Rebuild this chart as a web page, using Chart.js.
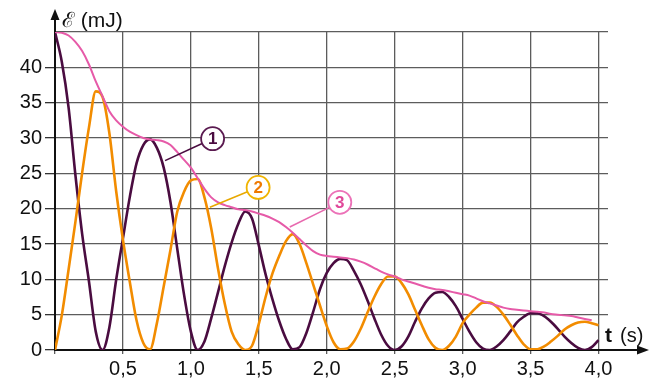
<!DOCTYPE html>
<html>
<head>
<meta charset="utf-8">
<script src="https://cdn.jsdelivr.net/npm/chart.js@4/dist/chart.umd.min.js"></script>
<style>
  html, body { margin: 0; padding: 0; background: #fff; }
  canvas { display: block; }
</style>
</head>
<body>
<canvas id="energyChart" width="657" height="382"></canvas>
<script>
// time in s (read every 0.05 s)
const times = [
  0, 0.05, 0.1, 0.15, 0.2, 0.25, 0.3, 0.35, 0.4, 0.45,
  0.5, 0.55, 0.6, 0.65, 0.7, 0.75, 0.8, 0.85, 0.9, 0.95,
  1.0, 1.05, 1.1, 1.15, 1.2, 1.25, 1.3, 1.35, 1.4, 1.45,
  1.5, 1.55, 1.6, 1.65, 1.7, 1.75, 1.8, 1.85, 1.9, 1.95,
  2.0, 2.05, 2.1, 2.15, 2.2, 2.25, 2.3, 2.35, 2.4, 2.45,
  2.5, 2.55, 2.6, 2.65, 2.7, 2.75, 2.8, 2.85, 2.9, 2.95,
  3.0, 3.05, 3.1, 3.15, 3.2, 3.25, 3.3, 3.35, 3.4, 3.45,
  3.5, 3.55, 3.6, 3.65, 3.7, 3.75, 3.8, 3.85, 3.9, 3.95,
  4.0
];

// curve 1 (mJ)
const curve1 = [
  45, 40.8, 34.3, 24.8, 16.4, 9.7, 2.6, 0, 3.2, 9.9,
  15.8, 21.6, 26.4, 29.0, 29.8, 28.6, 25.8, 20.9, 14.3, 7.8,
  2.6, 0, 1.2, 4.5, 8.2, 11.9, 15.2, 17.9, 19.6, 18.6,
  14.8, 10.7, 7.2, 4.1, 1.6, 0.1, 0.4, 2.4, 5.4, 8.6,
  10.9, 12.3, 12.9, 12.7, 11.2, 9.3, 7.0, 4.5, 2.2, 0.6,
  0, 0.5, 1.9, 4.0, 5.9, 7.3, 8.1, 8.2, 7.5, 6.2,
  4.4, 2.6, 1.1, 0.2, 0, 0.5, 1.4, 2.6, 3.9, 4.7,
  5.2, 5.2, 4.8, 4.0, 3.0, 1.9, 1.0, 0.3, 0, 0.4,
  1.4
];

// curve 2 (mJ)
const curve2 = [
  0, 4.9, 11.4, 18.1, 25.1, 31.5, 36.6, 35.8, 30.7, 22.5,
  15.6, 9.7, 4.2, 1.0, 0.1, 3.8, 9.0, 14.2, 19.6, 22.4,
  24.0, 24.2, 21.6, 17.2, 11.5, 6.5, 2.6, 0.8, 0, 0.6,
  3.7, 7.5, 10.8, 13.3, 15.4, 16.4, 15.0, 12.3, 9.3, 6.3,
  3.4, 1.1, 0.1, 0.2, 1.2, 3.0, 5.3, 7.5, 9.3, 10.4,
  10.4, 9.5, 7.9, 5.7, 3.5, 1.5, 0.3, 0, 0.6, 1.9,
  3.8, 5.0, 6.0, 6.7, 6.7, 6.1, 5.0, 3.6, 2.1, 0.8,
  0.1, 0.1, 0.5, 1.2, 2.0, 2.9, 3.5, 3.9, 4.0, 3.8,
  3.5
];

// curve 3 (mJ)
const curve3 = [
  45.0, 44.9, 44.5, 43.6, 42.3, 40.4, 38.0, 35.9, 33.8, 32.5,
  31.6, 30.9, 30.4, 30.0, 29.8, 29.7, 29.5, 29.0, 28.0, 26.9,
  25.8, 24.3, 22.8, 21.6, 20.9, 20.5, 20.2, 19.9, 19.8, 19.6,
  19.3, 19.0, 18.6, 18.1, 17.4, 16.6, 15.7, 14.8, 14.0, 13.5,
  13.3, 13.2, 13.1, 13.0, 12.8, 12.5, 12.1, 11.6, 11.1, 10.7,
  10.4, 10.0, 9.7, 9.4, 9.1, 8.8, 8.6, 8.5, 8.3, 8.1,
  7.9, 7.7, 7.3, 6.9, 6.6, 6.3, 6.0, 5.8, 5.7, 5.6,
  5.5, 5.4, 5.3, 5.1, 5.0, 4.9, 4.8, 4.6, 4.4, 4.2,
  null
];

const xTicks = ['0,5', '1,0', '1,5', '2,0', '2,5', '3,0', '3,5', '4,0'];

const PURPLE = '#4a0c40';
const ORANGE = '#f28c00';
const PINK = '#e65aa8';
const FONT = '"Liberation Sans", Arial, sans-serif';

function pts(vals) {
  return times.map((t, i) => ({ x: t, y: vals[i] }));
}

const decor = {
  id: 'decor',
  afterDraw(chart) {
    const { ctx, chartArea: a, scales: { x, y } } = chart;
    ctx.save();

    // axis arrows
    ctx.strokeStyle = '#111';
    ctx.fillStyle = '#111';
    ctx.lineWidth = 2;
    ctx.beginPath();
    ctx.moveTo(a.left, a.top);
    ctx.lineTo(a.left, 16);
    ctx.stroke();
    ctx.beginPath();
    ctx.moveTo(a.left, 9);
    ctx.lineTo(a.left - 4.5, 20);
    ctx.lineTo(a.left + 4.5, 20);
    ctx.closePath();
    ctx.fill();

    ctx.beginPath();
    ctx.moveTo(a.right, a.bottom);
    ctx.lineTo(640, a.bottom);
    ctx.stroke();
    ctx.beginPath();
    ctx.moveTo(649, a.bottom);
    ctx.lineTo(637, a.bottom - 4.5);
    ctx.lineTo(637, a.bottom + 4.5);
    ctx.closePath();
    ctx.fill();

    // axis titles
    ctx.textBaseline = 'alphabetic';
    ctx.textAlign = 'left';
    ctx.font = '21px ' + FONT;
    ctx.fillText('ℰ (mJ)', 62, 27);
    ctx.font = 'bold 21px ' + FONT;
    ctx.fillText('t', 605, 342);
    ctx.font = '20px ' + FONT;
    ctx.fillText('(s)', 620, 342);

    // numbered labels
    function bubble(txt, cx, cy, lx, ly, ring, ink, lead) {
      const px = x.getPixelForValue(cx), py = y.getPixelForValue(cy);
      const qx = x.getPixelForValue(lx), qy = y.getPixelForValue(ly);
      const r = 11.5;
      const ang = Math.atan2(py - qy, px - qx);
      ctx.strokeStyle = lead;
      ctx.lineWidth = 1.6;
      ctx.beginPath();
      ctx.moveTo(qx, qy);
      ctx.lineTo(px - r * Math.cos(ang), py - r * Math.sin(ang));
      ctx.stroke();
      ctx.fillStyle = '#fff';
      ctx.strokeStyle = ring;
      ctx.lineWidth = 1.8;
      ctx.beginPath();
      ctx.arc(px, py, r, 0, Math.PI * 2);
      ctx.fill();
      ctx.stroke();
      ctx.fillStyle = ink;
      ctx.font = 'bold 17px ' + FONT;
      ctx.textAlign = 'center';
      ctx.textBaseline = 'middle';
      ctx.fillText(txt, px, py + 1);
    }
    bubble('1', 1.16, 29.9, 0.81, 26.8, '#5a1a50', PURPLE, PURPLE);
    bubble('2', 1.495, 23.0, 1.14, 20.2, '#f0b400', '#ef7a00', '#e8a800');
    bubble('3', 2.096, 20.9, 1.728, 17.4, '#ec72b8', '#e0489a', '#e86aaf');

    ctx.restore();
  }
};

new Chart(document.getElementById('energyChart').getContext('2d'), {
  type: 'line',
  data: {
    datasets: [
      { label: '3', data: pts(curve3), borderColor: PINK, borderWidth: 2 },
      { label: '2', data: pts(curve2), borderColor: ORANGE, borderWidth: 2.6 },
      { label: '1', data: pts(curve1), borderColor: PURPLE, borderWidth: 2.6 }
    ]
  },
  options: {
    responsive: false,
    animation: false,
    layout: { padding: { top: 32, right: 49, left: 0, bottom: 0 } },
    plugins: { legend: { display: false }, tooltip: { enabled: false } },
    elements: {
      point: { radius: 0 },
      line: { cubicInterpolationMode: 'monotone', fill: false }
    },
    scales: {
      x: {
        type: 'linear',
        min: 0,
        max: 4.07,
        afterFit: s => { s.height = 32; },
        ticks: {
          stepSize: 0.5,
          includeBounds: false,
          autoSkip: false,
          maxRotation: 0,
          padding: 3,
          color: '#111',
          font: { family: FONT, size: 20 },
          callback: v => (v > 0 ? xTicks[Math.round(v * 2) - 1] : '')
        },
        grid: { color: '#5c5c5c', lineWidth: 1.3, tickLength: 4 },
        border: { color: '#111', width: 2 }
      },
      y: {
        min: 0,
        max: 45,
        afterFit: s => { s.width = 55; },
        ticks: {
          stepSize: 5,
          padding: 3,
          color: '#111',
          font: { family: FONT, size: 20 },
          callback: v => (v === 45 ? '' : v)
        },
        grid: {
          color: '#5c5c5c',
          lineWidth: 1.3,
          tickLength: 10,
          tickColor: c => (c.tick && c.tick.value === 45 ? 'rgba(0,0,0,0)' : '#333')
        },
        border: { color: '#111', width: 2 }
      }
    }
  },
  plugins: [decor]
});
</script>
</body>
</html>
